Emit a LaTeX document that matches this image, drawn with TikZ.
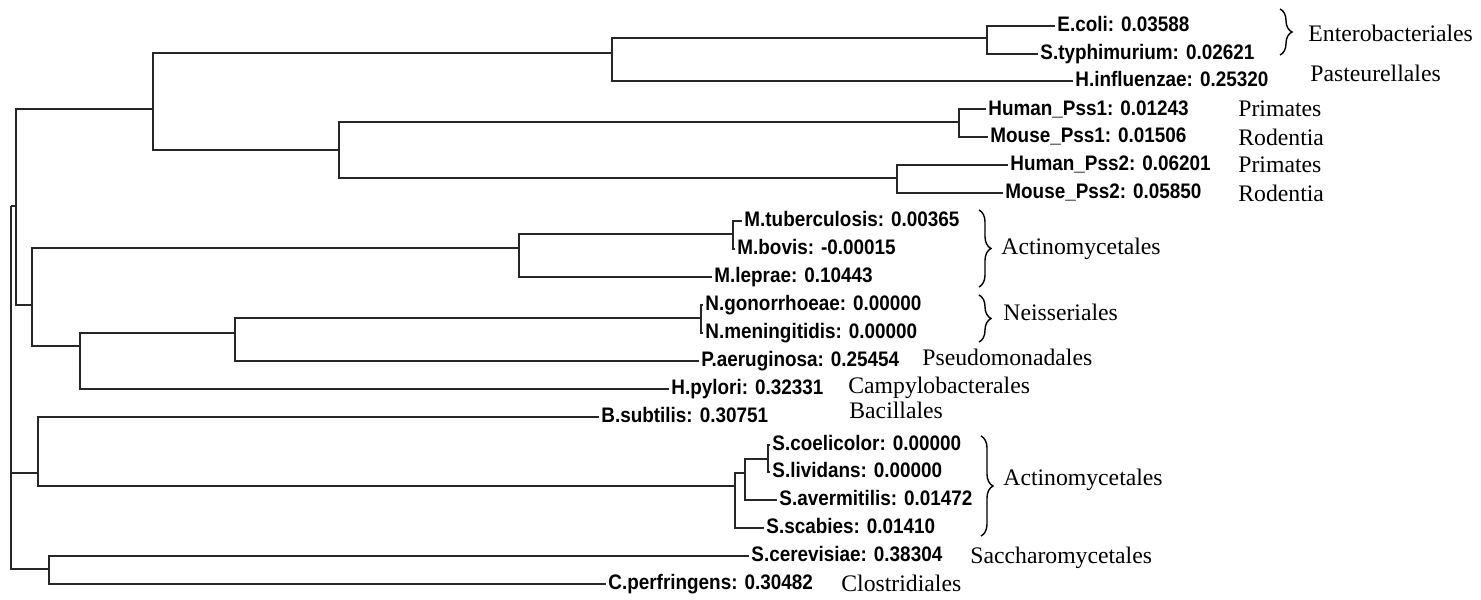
\documentclass[tikz,border=0pt]{standalone}
\usepackage{fontspec}
\setmainfont{Liberation Serif}
\newfontfamily\leaffont{Liberation Sans}[FakeStretch=0.9]
\usetikzlibrary{decorations.pathreplacing}
\begin{document}
\begin{tikzpicture}[x=0.5pt,y=-0.5pt,
  tree/.style={line width=1pt, draw=black!85},
  leaf/.style={anchor=west, inner ysep=0pt, inner xsep=1pt, text height=7.5pt, text depth=2pt, font=\leaffont\bfseries\fontsize{10.5}{12}\selectfont},
  order/.style={anchor=base west, inner sep=0pt, font=\fontsize{11.85}{14}\selectfont},
  bracebox/.style={decorate, decoration={brace, amplitude=6pt}, line width=0.7pt}]
\useasboundingbox (0,0) rectangle (1481,599);
% leaves
\node[leaf] (ecoli) at (1055,26) {E.coli: 0.03588};
\node[leaf] (styph) at (1038,54) {S.typhimurium: 0.02621};
\node[leaf] (hinf) at (1073,81.5) {H.influenzae: 0.25320};
\node[leaf] (hp1) at (986,109.5) {Human\_Pss1: 0.01243};
\node[leaf] (mp1) at (988,137) {Mouse\_Pss1: 0.01506};
\node[leaf] (hp2) at (1008,165) {Human\_Pss2: 0.06201};
\node[leaf] (mp2) at (1003,193) {Mouse\_Pss2: 0.05850};
\node[leaf] (mtub) at (742,221) {M.tuberculosis: 0.00365};
\node[leaf] (mbov) at (735,249) {M.bovis: -0.00015};
\node[leaf] (mlep) at (712,277) {M.leprae: 0.10443};
\node[leaf] (ngon) at (703,305) {N.gonorrhoeae: 0.00000};
\node[leaf] (nmen) at (703,333) {N.meningitidis: 0.00000};
\node[leaf] (paer) at (699,361) {P.aeruginosa: 0.25454};
\node[leaf] (hpyl) at (669,389) {H.pylori: 0.32331};
\node[leaf] (bsub) at (599,417) {B.subtilis: 0.30751};
\node[leaf] (scoel) at (770,444.5) {S.coelicolor: 0.00000};
\node[leaf] (sliv) at (770,472.4) {S.lividans: 0.00000};
\node[leaf] (sav) at (777,500) {S.avermitilis: 0.01472};
\node[leaf] (ssc) at (764,528) {S.scabies: 0.01410};
\node[leaf] (scer) at (749,556) {S.cerevisiae: 0.38304};
\node[leaf] (cperf) at (606,584) {C.perfringens: 0.30482};
% internal nodes
\coordinate (nEnt) at (987,38);
\coordinate (nEH) at (612,53);
\coordinate (nP1) at (959,122);
\coordinate (nP2) at (897,178);
\coordinate (nPss) at (339,150);
\coordinate (nTop) at (153,109);
\coordinate (nMb) at (733,234);
\coordinate (nM) at (519,248);
\coordinate (nN) at (701,318);
\coordinate (nNP) at (235,333);
\coordinate (nNPH) at (80,346);
\coordinate (nMN) at (32,305);
\coordinate (nA) at (16,206);
\coordinate (nSc) at (768,459);
\coordinate (nSa) at (745,473);
\coordinate (nS) at (735,486);
\coordinate (nBS) at (38,473);
\coordinate (nCC) at (49,569);
\coordinate (root) at (11,206);
% branches
\draw[tree] (nEnt) |- (ecoli.west);
\draw[tree] (nEnt) |- (styph.west);
\draw[tree] (nEH) |- (nEnt);
\draw[tree] (nEH) |- (hinf.west);
\draw[tree] (nP1) |- (hp1.west);
\draw[tree] (nP1) |- (mp1.west);
\draw[tree] (nP2) |- (hp2.west);
\draw[tree] (nP2) |- (mp2.west);
\draw[tree] (nPss) |- (nP1);
\draw[tree] (nPss) |- (nP2);
\draw[tree] (nTop) |- (nEH);
\draw[tree] (nTop) |- (nPss);
\draw[tree] (nMb) |- (mtub.west);
\draw[tree] (nMb) |- (mbov.west);
\draw[tree] (nM) |- (nMb);
\draw[tree] (nM) |- (mlep.west);
\draw[tree] (nN) |- (ngon.west);
\draw[tree] (nN) |- (nmen.west);
\draw[tree] (nNP) |- (nN);
\draw[tree] (nNP) |- (paer.west);
\draw[tree] (nNPH) |- (nNP);
\draw[tree] (nNPH) |- (hpyl.west);
\draw[tree] (nMN) |- (nM);
\draw[tree] (nMN) |- (nNPH);
\draw[tree] (nA) |- (nTop);
\draw[tree] (nA) |- (nMN);
\draw[tree] (nSc) |- (scoel.west);
\draw[tree] (nSc) |- (sliv.west);
\draw[tree] (nSa) |- (nSc);
\draw[tree] (nSa) |- (sav.west);
\draw[tree] (nS) |- (nSa);
\draw[tree] (nS) |- (ssc.west);
\draw[tree] (nBS) |- (bsub.west);
\draw[tree] (nBS) |- (nS);
\draw[tree] (nCC) |- (scer.west);
\draw[tree] (nCC) |- (cperf.west);
\draw[tree] (root) |- (nA);
\draw[tree] (root) |- (nBS);
\draw[tree] (root) |- (nCC);
% braces
\draw[bracebox] (1280,9) -- (1280,55);
\draw[bracebox] (979,210) -- (979,287);
\draw[bracebox] (979,295) -- (979,342);
\draw[bracebox] (981,436) -- (981,536);
% order labels
\node[order] (oEnt) at (1308,41.7) {Enterobacteriales};
\node[order] (oPas) at (1310,81.7) {Pasteurellales};
\node[order] (oPri1) at (1238,117) {Primates};
\node[order] (oRod1) at (1238,145) {Rodentia};
\node[order] (oPri2) at (1238,172.7) {Primates};
\node[order] (oRod2) at (1238,201) {Rodentia};
\node[order] (oAct1) at (1001,254) {Actinomycetales};
\node[order] (oNei) at (1003,320) {Neisseriales};
\node[order] (oPse) at (922,365) {Pseudomonadales};
\node[order] (oCam) at (848,393) {Campylobacterales};
\node[order] (oBac) at (849,418) {Bacillales};
\node[order] (oAct2) at (1003,485) {Actinomycetales};
\node[order] (oSac) at (970,563) {Saccharomycetales};
\node[order] (oClo) at (841,591.5) {Clostridiales};
\end{tikzpicture}
\end{document}
